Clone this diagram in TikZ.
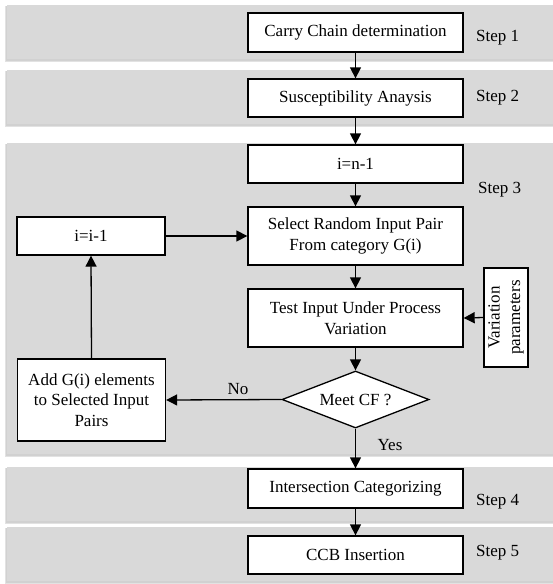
\documentclass[tikz,border=0pt]{standalone}
\usepackage{fontspec}
\setmainfont{Liberation Serif}
\usetikzlibrary{arrows.meta,shapes.geometric}
\definecolor{bandgray}{HTML}{D9D9D9}
\definecolor{shadowgray}{HTML}{B8B8B8}
\tikzset{
  px/.style={x=1pt,y=-1pt},
  boxnode/.style={draw=black,fill=white,line width=1.3pt,inner sep=0pt,align=center,
    font=\fontsize{17}{20.5}\selectfont},
  decision/.style={diamond,draw=black,fill=white,line width=1.3pt,inner sep=0pt,
    font=\fontsize{17}{20.5}\selectfont},
  steplabel/.style={anchor=west,inner sep=0pt,font=\fontsize{17}{20}\selectfont},
  edgelabel/.style={inner sep=0pt,font=\fontsize{17}{20}\selectfont},
  conn/.style={line width=1.3pt,-{Triangle[length=11pt,width=11pt]}},
  bandfill/.style={fill=bandgray,draw=none},
  bandshadow/.style={fill=shadowgray,draw=none,opacity=0.4}
}
\newcommand{\drawband}[2]{%
  \fill[bandshadow] (5,#1+1) rectangle (570,#2+3);
  \fill[bandshadow] (6,#1+0.5) rectangle (570,#2+1.5);
  \fill[bandfill] (7,#1) rectangle (570,#2);
}
\begin{document}
\begin{tikzpicture}[px]
\useasboundingbox (0,0) rectangle (553,584);
\fill[white] (0,0) rectangle (553,584);
% bands
\drawband{5}{59}
\drawband{70}{124}
\drawband{143}{454}
\drawband{467}{521}
\drawband{527}{581}
% nodes
\node[boxnode,minimum width=215pt,minimum height=39pt] (cc) at (355.5,32.5) {Carry Chain determination};
\node[boxnode,minimum width=215pt,minimum height=38pt] (sus) at (355.5,98) {Susceptibility Anaysis};
\node[boxnode,minimum width=215pt,minimum height=38pt] (inn) at (355.5,164) {i=n-1};
\node[boxnode,minimum width=215pt,minimum height=58pt] (sel) at (355.5,236) {Select Random Input Pair\\From category G(i)};
\node[boxnode,minimum width=215pt,minimum height=58pt] (test) at (355.5,318) {Test Input Under Process\\Variation};
\node[boxnode,minimum width=99pt,minimum height=44pt,rotate=90] (var) at (506,317.5) {Variation\\parameters};
\node[decision,minimum width=147pt,minimum height=57pt,aspect=2.58] (dia) at (355.5,399.5) {Meet CF ?};
\node[boxnode,minimum width=148pt,minimum height=38pt] (ii) at (91,236) {i=i-1};
\node[boxnode,minimum width=148pt,minimum height=82pt] (add) at (91.5,400) {Add G(i) elements\\to Selected Input\\Pairs};
\node[boxnode,minimum width=215pt,minimum height=39pt] (inter) at (355.5,488.5) {Intersection Categorizing};
\node[boxnode,minimum width=215pt,minimum height=38pt] (ccb) at (355.5,555) {CCB Insertion};
% step labels
\node[steplabel] (s1) at (476,38) {Step 1};
\node[steplabel] (s2) at (476,98) {Step 2};
\node[steplabel] (s3) at (478,190) {Step 3};
\node[steplabel] (s4) at (476,502) {Step 4};
\node[steplabel] (s5) at (476,553) {Step 5};
% connectors
\draw[conn] (cc.south) -- (sus.north);
\draw[conn] (sus.south) -- (inn.north);
\draw[conn] (inn.south) -- (sel.north);
\draw[conn] (sel.south) -- (test.north);
\draw[conn] (test.south) -- (dia.north);
\draw[conn] (dia.south) -- (inter.north);
\draw[conn] (inter.south) -- (ccb.north);
\draw[conn] (dia.west) -- (add.east);
\draw[conn] (add.north) -- (ii.south);
\draw[conn] (ii.east) -- (sel.west);
\draw[conn] (var.north) -- (test.east);
% edge labels
\node[edgelabel] (no) at (238,389) {No};
\node[edgelabel] (yes) at (390,445) {Yes};
\end{tikzpicture}
\end{document}
